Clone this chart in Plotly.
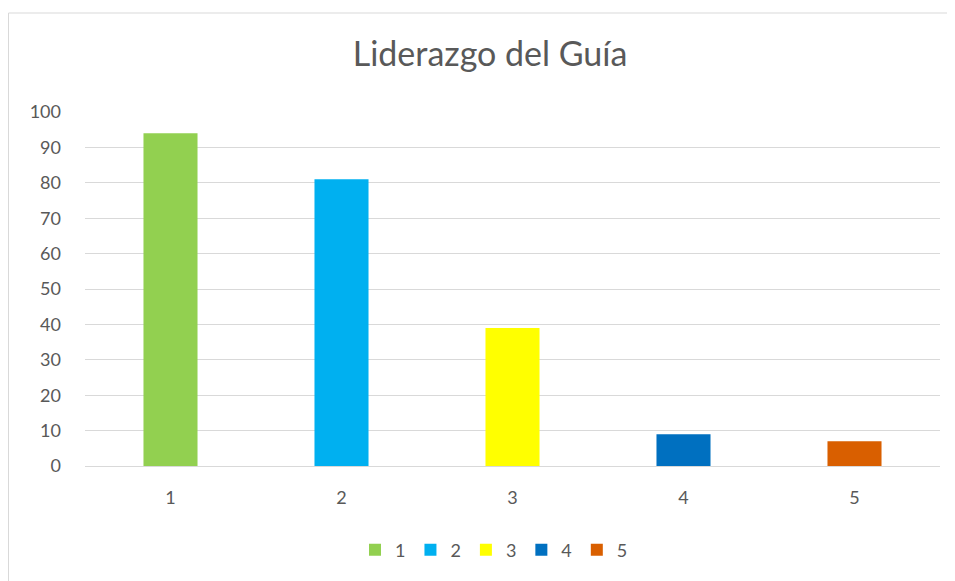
import plotly.graph_objects as go

categories = ["1", "2", "3", "4", "5"]
values = [94, 81, 39, 9, 7]
colors = ["#92D050", "#00B0F0", "#FFFF00", "#0070C0", "#D95F00"]
title = "Liderazgo del Guía"

fig = go.Figure()
for c, v, col in zip(categories, values, colors):
    fig.add_trace(go.Bar(x=[c], y=[v], name=c, marker=dict(color=col, line=dict(width=0)), width=0.316))

# page body has an 8px margin, so figure coords = screen coords - 8
W, H = 947, 573
L, R, T, B = 77, 932, 104, 458
pw, ph = R - L, B - T

def px(x):
    return (x - L) / pw

def py(y):
    return (B - y) / ph

border = dict(color="#D9D9D9", width=1)
# chart-area frame: only top and left edges fall inside the visible window
fig.add_shape(type="line", xref="paper", yref="paper", x0=px(0.5), x1=px(W), y0=py(5), y1=py(5), line=border)
fig.add_shape(type="line", xref="paper", yref="paper", x0=px(0.5), x1=px(0.5), y0=py(5), y1=py(H), line=border)

fig.update_layout(
    width=W, height=H,
    margin=dict(l=L, r=W - R, t=T, b=H - B, autoexpand=False),
    paper_bgcolor="white", plot_bgcolor="white",
    barmode="overlay",
    font=dict(family="Lato, Open Sans, sans-serif", color="#595959", size=18),
    title=dict(text=title, x=482 / W, xref="container", xanchor="center", y=1 - 46 / H, yanchor="middle",
               font=dict(size=34, color="#595959")),
    xaxis=dict(type="category", categoryorder="array", categoryarray=categories,
               showgrid=False, showline=False, ticks="", tickfont=dict(size=18, color="#595959"),
               ticklabelstandoff=19),
    yaxis=dict(range=[0, 100], dtick=10, showgrid=True, gridcolor="#D9D9D9", gridwidth=1,
               zeroline=True, zerolinecolor="#D9D9D9", zerolinewidth=1,
               showline=False, ticks="", tickfont=dict(size=18, color="#595959"), ticklabelstandoff=23),
    showlegend=True,
    legend=dict(orientation="h", x=px(486), xanchor="center", y=py(542), yanchor="middle",
                font=dict(size=18, color="#595959"), itemwidth=30, tracegroupgap=0),
)

fig.write_html("out.html")
